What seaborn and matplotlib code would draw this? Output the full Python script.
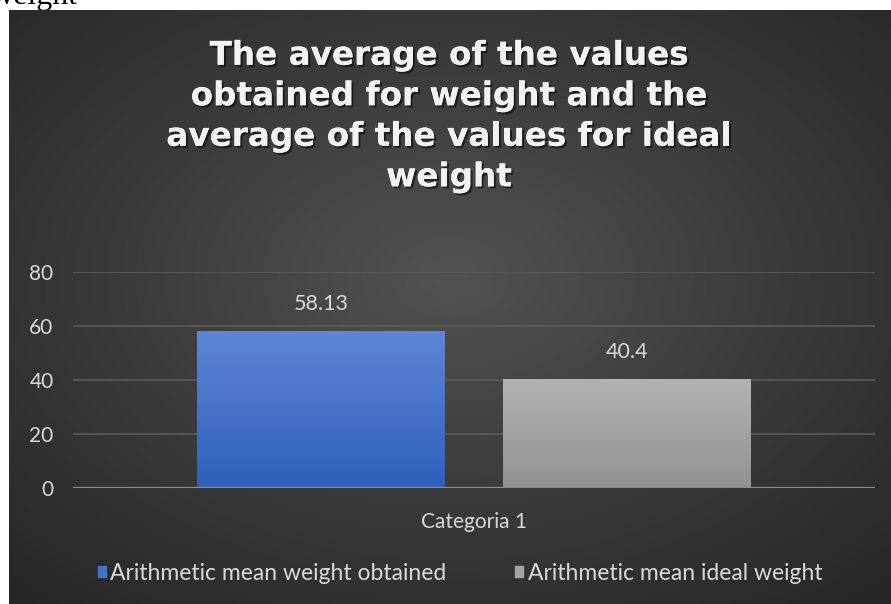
import numpy as np
import pandas as pd
import matplotlib
matplotlib.use("Agg")
import matplotlib.pyplot as plt
import matplotlib.patheffects as pe
from matplotlib.patches import Rectangle
from matplotlib.colors import LinearSegmentedColormap
import seaborn as sns

categories = ["Categoria 1"]
series = ["Arithmetic mean weight obtained", "Arithmetic mean ideal weight"]
values = [58.13, 40.4]
value_labels = ["58.13", "40.4"]
yticks = [0, 20, 40, 60, 80]
title = "The average of the values\nobtained for weight and the\naverage of the values for ideal\nweight"

df = pd.DataFrame({"category": categories * len(series), "series": series, "value": values})

W, H = 891, 604
fig = plt.figure(figsize=(W / 100, H / 100), dpi=100, facecolor="white")

# stray caption text from the page, clipped at the top
fig.text(-9 / W, 1 - 4 / H, "weight", family="Liberation Serif", fontsize=23,
         color="black", va="baseline", ha="left", zorder=0)

# background panel with radial gradient
bg = fig.add_axes([9 / W, 0, (W - 9) / W, (H - 10) / H], zorder=1)
yy, xx = np.mgrid[0:1:300j, 0:1:400j]
r = np.sqrt(((xx - 0.5) / 0.75) ** 2 + ((yy - 0.55) / 0.75) ** 2)
r = np.clip(r, 0, 1)
cmap_bg = LinearSegmentedColormap.from_list("bg", ["#525252", "#3b3b3b", "#262626"])
bg.imshow(r, cmap=cmap_bg, aspect="auto", extent=[0, 1, 0, 1], origin="lower")
bg.set_axis_off()

sns.set_style("dark")
ax = fig.add_axes([73 / W, (H - 488) / H, (875 - 73) / W, (488 - 272) / H], zorder=2)
ax.patch.set_alpha(0)

palette = {series[0]: "#4472c4", series[1]: "#a5a5a5"}
sns.barplot(data=df, x="category", y="value", hue="series", palette=palette,
            width=0.764, gap=0.191, ax=ax, legend=False, zorder=3)

lab_font = "Lato"
ax.set_ylim(0, 80)
ax.set_xlim(-0.5, 0.5)
ax.set_yticks(yticks)
ax.set_yticklabels([str(t) for t in yticks], family=lab_font, fontsize=15, color="#d9d9d9")
ax.tick_params(axis="y", length=0, pad=14)
ax.tick_params(axis="x", length=0, pad=17)
for lbl in ax.get_xticklabels():
    lbl.set_family(lab_font); lbl.set_fontsize(15); lbl.set_color("#d9d9d9")
ax.set_xlabel(""); ax.set_ylabel("")
for s in ax.spines.values():
    s.set_visible(False)
ax.grid(False)
for t in yticks[1:]:
    ax.axhline(t, color="#5c5c5c", lw=1.2, zorder=1)
ax.axhline(0, color="#8c8c8c", lw=1.6, zorder=4)

# gradient fill for bars
grads = [("#5f86d6", "#2e60bb"), ("#b3b3b3", "#929292")]
bars = [p for p in ax.patches if isinstance(p, Rectangle) and p.get_height() > 0]
bars = sorted(bars, key=lambda p: p.get_x())
for p, (top, bot), lab in zip(bars, grads, value_labels):
    x0, w, h = p.get_x(), p.get_width(), p.get_height()
    cm = LinearSegmentedColormap.from_list("g", [bot, top])
    grad = np.linspace(0, 1, 100).reshape(-1, 1)
    im = ax.imshow(grad, cmap=cm, aspect="auto", extent=[x0, x0 + w, 0, h],
                   origin="lower", zorder=3)
    im.set_clip_path(p)
    p.set_edgecolor("none")
    ax.annotate(lab, (x0 + w / 2, h), xytext=(0, 19.5), textcoords="offset points",
                ha="center", va="center", family=lab_font, fontsize=15.5, color="#d9d9d9", zorder=5)
ax.set_xlim(-0.5, 0.5)
ax.set_ylim(0, 80)

fig.text(449 / W, 1 - 116 / H, title, ha="center", va="center", family="DejaVu Sans",
         fontweight="bold", fontsize=23.5, color="#f2f2f2", linespacing=1.29, zorder=5,
         path_effects=[pe.withSimplePatchShadow(offset=(1.5, -1.5), shadow_rgbFace="black", alpha=0.55),
                       pe.Normal()])

# legend
handles = [Rectangle((0, 0), 1, 1, color=palette[s]) for s in series]
leg = fig.legend(handles, series, loc="center", bbox_to_anchor=(460 / W, 1 - 573 / H),
                 ncol=2, frameon=False, handlelength=0.35, handleheight=0.35,
                 handletextpad=0.2, columnspacing=3.0,
                 prop={"family": lab_font, "size": 16.5})
for t in leg.get_texts():
    t.set_color("#d9d9d9")
leg.set_zorder(6)

fig.savefig("out.png", dpi=100, facecolor="white")
